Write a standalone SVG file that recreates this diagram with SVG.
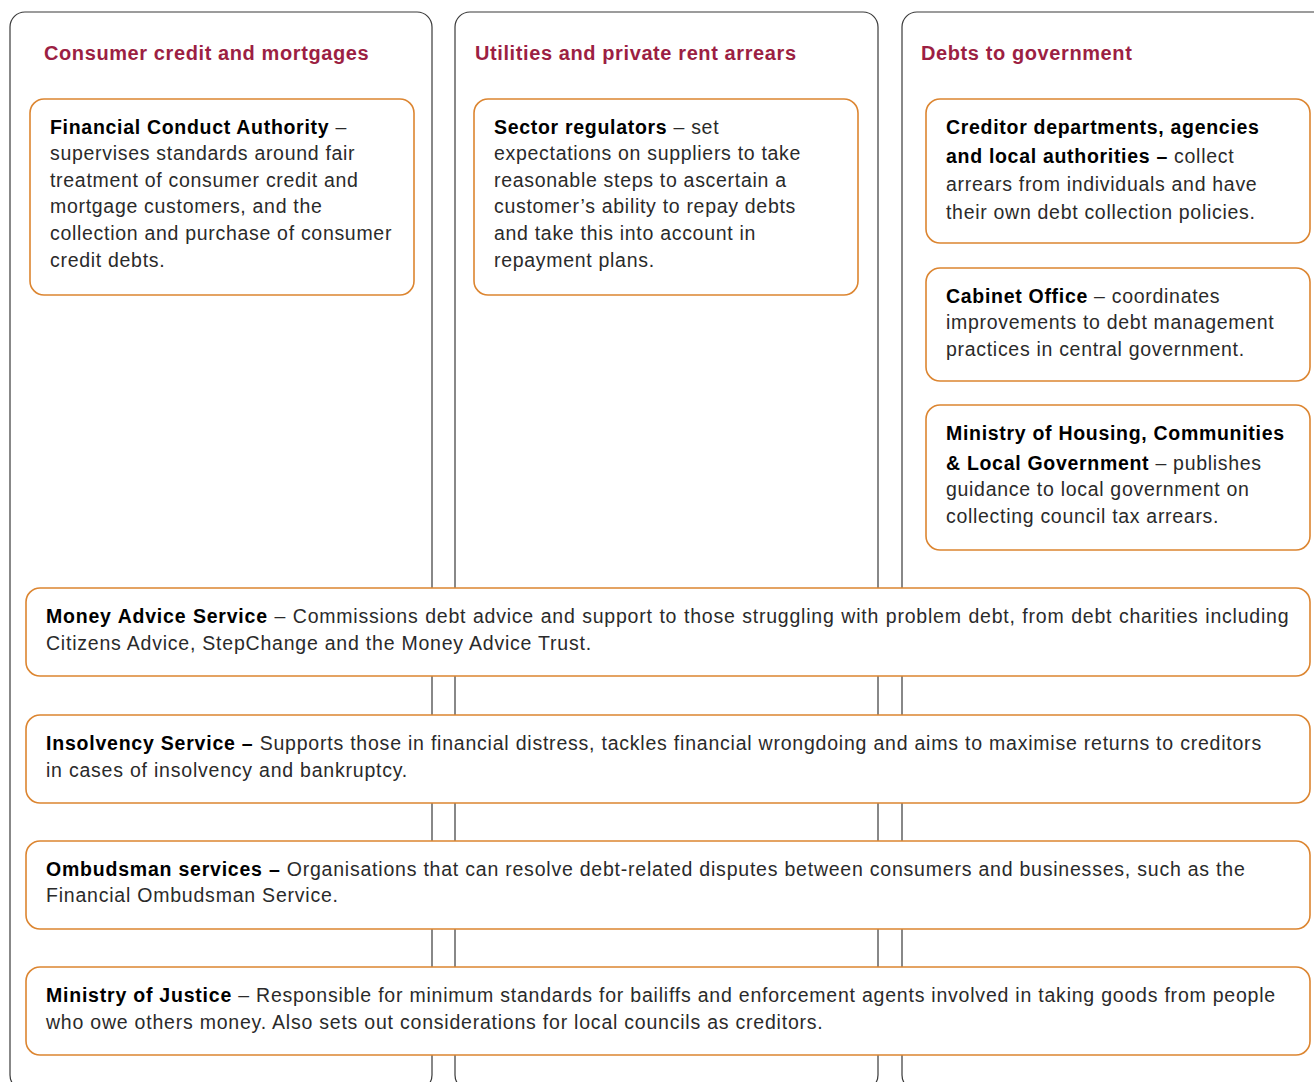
<svg xmlns="http://www.w3.org/2000/svg" width="1314" height="1082" viewBox="0 0 1314 1082">
  <style>
    .col { fill: #ffffff; stroke: #3a3a3a; stroke-width: 1.2; }
    .box { fill: #ffffff; stroke: #dc8530; stroke-width: 1.6; }
    .head { font-family: "Liberation Sans", Arial, sans-serif; font-size: 20px; font-weight: bold; fill: #9c1f43; letter-spacing: 0.6px; }
    .txt { font-family: "Liberation Sans", Arial, sans-serif; font-size: 19.5px; fill: #2a2a2a; letter-spacing: 0.7px; }
    .wide { letter-spacing: 0.78px; }
    .b { font-weight: bold; fill: #000000; }
  </style>

  <!-- Column frames (bottom edges run past the canvas) -->
  <g id="columns">
    <g id="col-consumer">
      <rect class="col" x="10" y="12" width="422" height="1078" rx="15"/>
      <text class="head" x="44" y="60">Consumer credit and mortgages</text>
    </g>
    <g id="col-utilities">
      <rect class="col" x="455" y="12" width="423" height="1078" rx="15"/>
      <text class="head" x="475" y="60">Utilities and private rent arrears</text>
    </g>
    <g id="col-government">
      <rect class="col" x="902" y="12" width="430" height="1078" rx="15"/>
      <text class="head" x="921" y="60">Debts to government</text>
    </g>
  </g>

  <g id="connectors"></g>

  <g id="fca">
    <rect class="box" x="30" y="99" width="384" height="196" rx="14"/>
    <text class="txt" x="50">
      <tspan x="50" y="134"><tspan class="b">Financial Conduct Authority</tspan> –</tspan>
      <tspan x="50" y="160">supervises standards around fair</tspan>
      <tspan x="50" y="187">treatment of consumer credit and</tspan>
      <tspan x="50" y="213">mortgage customers, and the</tspan>
      <tspan x="50" y="240">collection and purchase of consumer</tspan>
      <tspan x="50" y="267">credit debts.</tspan>
    </text>
  </g>

  <g id="sector-regulators">
    <rect class="box" x="474" y="99" width="384" height="196" rx="14"/>
    <text class="txt" x="494">
      <tspan x="494" y="134"><tspan class="b">Sector regulators</tspan> – set</tspan>
      <tspan x="494" y="160">expectations on suppliers to take</tspan>
      <tspan x="494" y="187">reasonable steps to ascertain a</tspan>
      <tspan x="494" y="213">customer’s ability to repay debts</tspan>
      <tspan x="494" y="240">and take this into account in</tspan>
      <tspan x="494" y="267">repayment plans.</tspan>
    </text>
  </g>

  <g id="creditor-departments">
    <rect class="box" x="926" y="99" width="384" height="144" rx="14"/>
    <text class="txt" x="946">
      <tspan x="946" y="134" class="b">Creditor departments, agencies</tspan>
      <tspan x="946" y="163"><tspan class="b">and local authorities –</tspan> collect</tspan>
      <tspan x="946" y="191">arrears from individuals and have</tspan>
      <tspan x="946" y="219">their own debt collection policies.</tspan>
    </text>
  </g>

  <g id="cabinet-office">
    <rect class="box" x="926" y="268" width="384" height="113" rx="14"/>
    <text class="txt" x="946">
      <tspan x="946" y="303"><tspan class="b">Cabinet Office</tspan> – coordinates</tspan>
      <tspan x="946" y="329">improvements to debt management</tspan>
      <tspan x="946" y="356">practices in central government.</tspan>
    </text>
  </g>

  <g id="mhclg">
    <rect class="box" x="926" y="405" width="384" height="145" rx="14"/>
    <text class="txt" x="946">
      <tspan x="946" y="440" class="b">Ministry of Housing, Communities</tspan>
      <tspan x="946" y="470"><tspan class="b">&amp; Local Government</tspan> – publishes</tspan>
      <tspan x="946" y="496">guidance to local government on</tspan>
      <tspan x="946" y="523">collecting council tax arrears.</tspan>
    </text>
  </g>

  <g id="money-advice">
    <rect class="box" x="26" y="588" width="1284" height="88" rx="14"/>
    <text class="txt wide" x="46">
      <tspan x="46" y="623" word-spacing="0.5"><tspan class="b">Money Advice Service</tspan> – Commissions debt advice and support to those struggling with problem debt, from debt charities including</tspan>
      <tspan x="46" y="650">Citizens Advice, StepChange and the Money Advice Trust.</tspan>
    </text>
  </g>

  <g id="insolvency">
    <rect class="box" x="26" y="715" width="1284" height="88" rx="14"/>
    <text class="txt wide" x="46">
      <tspan x="46" y="750"><tspan class="b">Insolvency Service –</tspan> Supports those in financial distress, tackles financial wrongdoing and aims to maximise returns to creditors</tspan>
      <tspan x="46" y="777">in cases of insolvency and bankruptcy.</tspan>
    </text>
  </g>

  <g id="ombudsman">
    <rect class="box" x="26" y="841" width="1284" height="88" rx="14"/>
    <text class="txt wide" x="46">
      <tspan x="46" y="876"><tspan class="b">Ombudsman services –</tspan> Organisations that can resolve debt-related disputes between consumers and businesses, such as the</tspan>
      <tspan x="46" y="902">Financial Ombudsman Service.</tspan>
    </text>
  </g>

  <g id="justice">
    <rect class="box" x="26" y="967" width="1284" height="88" rx="14"/>
    <text class="txt wide" x="46">
      <tspan x="46" y="1002"><tspan class="b">Ministry of Justice</tspan> – Responsible for minimum standards for bailiffs and enforcement agents involved in taking goods from people</tspan>
      <tspan x="46" y="1029">who owe others money. Also sets out considerations for local councils as creditors.</tspan>
    </text>
  </g>
</svg>
